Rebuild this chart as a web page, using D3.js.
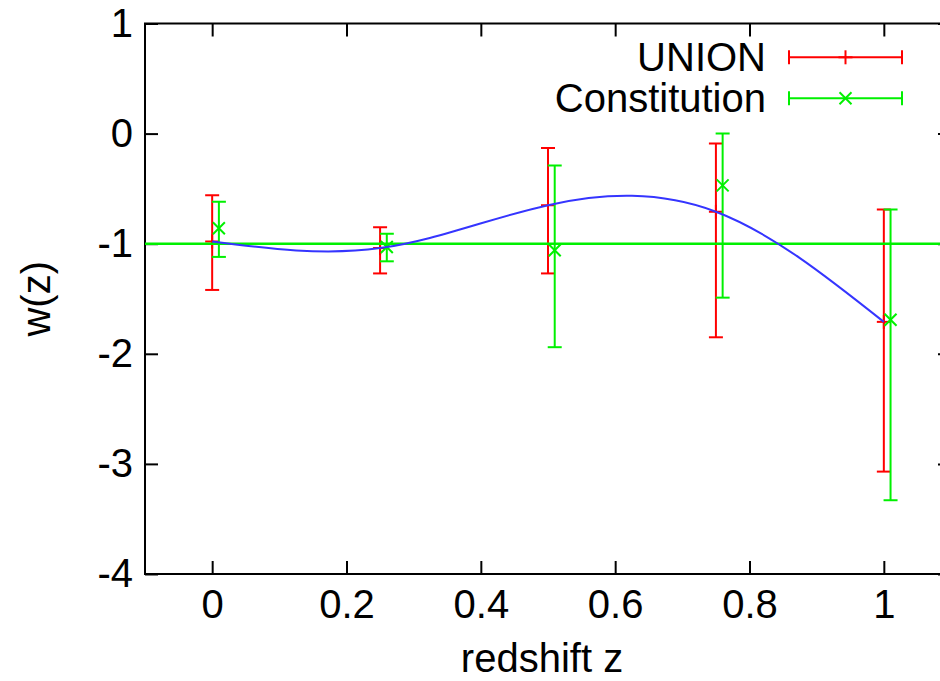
<!DOCTYPE html>
<html>
<head>
<meta charset="utf-8">
<script src="https://cdn.jsdelivr.net/npm/d3@7"></script>
<style>
  body { margin: 0; background: #fff; }
  svg { display: block; }
  text { font-family: "Liberation Sans", Arial, Helvetica, sans-serif; fill: #000; }
</style>
</head>
<body>
<svg id="chart" width="940" height="681"></svg>
<script>
// Binned dark-energy equation of state w(z), two supernova compilations
const unionZ   = [0, 0.25, 0.5, 0.75, 1.0];
const unionW   = [-0.98, -1.04, -0.65, -0.71, -1.71];
const unionHi  = [-0.56, -0.85, -0.13, -0.09, -0.69];
const unionLo  = [-1.42, -1.27, -1.27, -1.85, -3.07];

const constZ   = [0.01, 0.26, 0.51, 0.76, 1.01];
const constW   = [-0.86, -1.03, -1.06, -0.47, -1.69];
const constHi  = [-0.62, -0.91, -0.29, 0.0, -0.69];
const constLo  = [-1.12, -1.16, -1.94, -1.49, -3.33];

// cosmological-constant reference value
const lcdmW = -1;

const xTicks = [0, 0.2, 0.4, 0.6, 0.8, 1];
const yTicks = [1, 0, -1, -2, -3, -4];
const xDomain = [-0.1, 1.1];
const yDomain = [-4, 1];
const xLabel = "redshift z";
const yLabel = "w(z)";
const legendNames = ["UNION", "Constitution"];

const RED = "#ff0000", GREEN = "#00f000", BLUE = "#3535ff";
const FONT = 40;

const svg = d3.select("#chart");
const plot = { left: 145, right: 951, top: 23.5, bottom: 574 };

const x = d3.scaleLinear(xDomain, [plot.left, plot.right]);
const y = d3.scaleLinear(yDomain, [plot.bottom, plot.top]);

svg.append("defs").append("clipPath").attr("id", "clip")
  .append("rect")
  .attr("x", plot.left).attr("y", plot.top)
  .attr("width", plot.right - plot.left).attr("height", plot.bottom - plot.top);

const fmt = d => String(d);
const TICK = 13;

function styleAxis(g) {
  g.select(".domain").remove();
  g.selectAll(".tick line").attr("stroke", "#000").attr("stroke-width", 2);
  g.selectAll(".tick text").attr("font-size", FONT).attr("font-family", null);
}

// bottom axis with labels, ticks pointing inward
svg.append("g").attr("transform", `translate(0,${plot.bottom})`)
  .call(d3.axisBottom(x).tickValues(xTicks).tickFormat(fmt).tickSize(-TICK).tickPadding(16))
  .call(styleAxis);
// top mirror ticks
svg.append("g").attr("transform", `translate(0,${plot.top})`)
  .call(d3.axisTop(x).tickValues(xTicks).tickFormat("").tickSize(-TICK))
  .call(styleAxis);
// left axis with labels
svg.append("g").attr("transform", `translate(${plot.left},0)`)
  .call(d3.axisLeft(y).tickValues(yTicks).tickFormat(fmt).tickSize(-TICK).tickPadding(12))
  .call(styleAxis);
// right mirror ticks
svg.append("g").attr("transform", `translate(${plot.right},0)`)
  .call(d3.axisRight(y).tickValues(yTicks).tickFormat("").tickSize(-TICK))
  .call(styleAxis);

// plot frame
svg.append("rect")
  .attr("x", plot.left).attr("y", plot.top)
  .attr("width", plot.right - plot.left).attr("height", plot.bottom - plot.top)
  .attr("fill", "none").attr("stroke", "#000").attr("stroke-width", 2);

// axis titles
svg.append("text")
  .attr("x", 542).attr("y", 672)
  .attr("text-anchor", "middle").attr("font-size", FONT)
  .text(xLabel);
svg.append("text")
  .attr("transform", `translate(50,${(plot.top + plot.bottom) / 2}) rotate(-90)`)
  .attr("text-anchor", "middle").attr("font-size", FONT)
  .text(yLabel);

const layer = svg.append("g").attr("clip-path", "url(#clip)");

const CAP = 7;
function errorBars(zs, ws, his, los, color, marker) {
  const g = layer.append("g").attr("stroke", color).attr("stroke-width", 2).attr("fill", "none");
  zs.forEach((z, i) => {
    const cx = x(z), yt = y(his[i]), yb = y(los[i]), yc = y(ws[i]);
    g.append("line").attr("x1", cx).attr("x2", cx).attr("y1", yt).attr("y2", yb);
    g.append("line").attr("x1", cx - CAP).attr("x2", cx + CAP).attr("y1", yt).attr("y2", yt);
    g.append("line").attr("x1", cx - CAP).attr("x2", cx + CAP).attr("y1", yb).attr("y2", yb);
    marker(g, cx, yc);
  });
}
function plusMarker(g, cx, cy) {
  const s = 7;
  g.append("line").attr("x1", cx - s).attr("x2", cx + s).attr("y1", cy).attr("y2", cy);
  g.append("line").attr("x1", cx).attr("x2", cx).attr("y1", cy - s).attr("y2", cy + s);
}
function crossMarker(g, cx, cy) {
  const s = 6;
  g.append("line").attr("x1", cx - s).attr("x2", cx + s).attr("y1", cy - s).attr("y2", cy + s);
  g.append("line").attr("x1", cx - s).attr("x2", cx + s).attr("y1", cy + s).attr("y2", cy - s);
}

errorBars(unionZ, unionW, unionHi, unionLo, RED, plusMarker);
errorBars(constZ, constW, constHi, constLo, GREEN, crossMarker);

// w = -1 reference line
layer.append("line")
  .attr("x1", x(xDomain[0])).attr("x2", x(xDomain[1]))
  .attr("y1", y(lcdmW)).attr("y2", y(lcdmW))
  .attr("stroke", GREEN).attr("stroke-width", 2.5);

// smooth reconstruction through the UNION bins
const curve = d3.line().x(d => x(d[0])).y(d => y(d[1])).curve(d3.curveNatural);
layer.append("path")
  .attr("d", curve(unionZ.map((z, i) => [z, unionW[i]])))
  .attr("fill", "none").attr("stroke", BLUE).attr("stroke-width", 2);

// legend
const legend = svg.append("g");
const legRows = [
  { name: legendNames[0], color: RED, marker: plusMarker, base: 70.5, ly: 57.3 },
  { name: legendNames[1], color: GREEN, marker: crossMarker, base: 111.5, ly: 98.3 }
];
legRows.forEach(r => {
  legend.append("text").attr("x", 766).attr("y", r.base)
    .attr("text-anchor", "end").attr("font-size", FONT).text(r.name);
  const g = legend.append("g").attr("stroke", r.color).attr("stroke-width", 2);
  const x0 = 789, x1 = 902, cx = (x0 + x1) / 2;
  g.append("line").attr("x1", x0).attr("x2", x1).attr("y1", r.ly).attr("y2", r.ly);
  g.append("line").attr("x1", x0).attr("x2", x0).attr("y1", r.ly - CAP).attr("y2", r.ly + CAP);
  g.append("line").attr("x1", x1).attr("x2", x1).attr("y1", r.ly - CAP).attr("y2", r.ly + CAP);
  r.marker(g, cx, r.ly);
});
</script>
</body>
</html>
